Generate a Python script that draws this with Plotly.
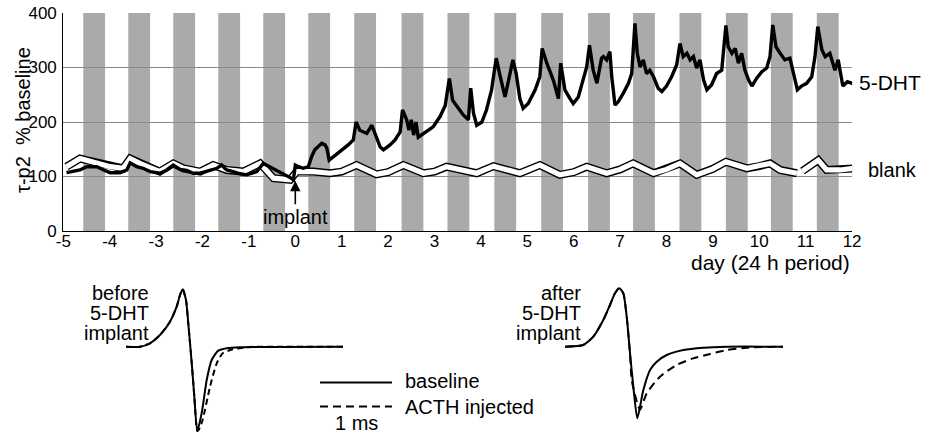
import plotly.graph_objects as go

W, H = 931, 437
FONT = "Liberation Sans, Arial, sans-serif"

# ---------------- top panel data ----------------
night_start = [-4.57, -3.60, -2.63, -1.66, -0.69, 0.28, 1.27, 2.29, 3.28, 4.29,
               5.30, 6.31, 7.28, 8.28, 9.28, 10.25, 11.24]
night_len = 0.47

x_ticks = list(range(-5, 13))
y_ticks = [0, 100, 200, 300, 400]

dht_day = [-4.93, -4.64, -4.50, -4.28, -4.13, -3.99, -3.78, -3.63, -3.56, -3.42, -3.28, -3.13,
           -2.92, -2.77, -2.63, -2.48, -2.34, -2.20, -2.05, -1.91, -1.69, -1.59, -1.48, -1.34,
           -1.19, -1.05, -0.83, -0.69, -0.55, -0.40, -0.26, -0.11, -0.04,
           0.00, 0.07, 0.17, 0.28, 0.35, 0.42, 0.50, 0.57, 0.64, 0.68, 0.73, 0.82, 0.93, 1.03,
           1.14, 1.25, 1.31, 1.39, 1.54, 1.65, 1.72, 1.83, 1.90, 2.04, 2.15, 2.26, 2.31, 2.40,
           2.45, 2.50, 2.55, 2.60, 2.65, 2.72, 2.83, 2.97, 3.12, 3.23, 3.32, 3.39, 3.44, 3.51,
           3.62, 3.73, 3.78, 3.84, 3.91, 4.02, 4.12, 4.23, 4.33, 4.41, 4.52, 4.59, 4.69, 4.76,
           4.84, 4.91, 5.02, 5.17, 5.27, 5.32, 5.42, 5.56, 5.67, 5.72, 5.81, 5.92, 5.99, 6.10,
           6.21, 6.28, 6.34, 6.42, 6.50, 6.60, 6.64, 6.71, 6.78, 6.82, 6.89, 6.96, 7.07, 7.18,
           7.25, 7.32, 7.37, 7.43, 7.50, 7.57, 7.64, 7.72, 7.82, 7.90, 8.00, 8.11, 8.22, 8.29,
           8.36, 8.44, 8.51, 8.58, 8.65, 8.72, 8.80, 8.87, 8.97, 9.08, 9.19, 9.28, 9.33, 9.41,
           9.48, 9.55, 9.62, 9.69, 9.77, 9.84, 9.94, 10.05, 10.16, 10.23, 10.29, 10.36, 10.45,
           10.55, 10.66, 10.74, 10.82, 10.91, 11.02, 11.13, 11.20, 11.26, 11.35, 11.42, 11.52,
           11.63, 11.70, 11.80, 11.90, 12.00, 12.07]
dht_val = [107, 112, 118, 118, 112, 107, 107, 112, 125, 118, 115, 109,
           106, 112, 121, 113, 111, 106, 106, 109, 115, 121, 112, 109,
           105, 103, 109, 124, 118, 112, 106, 98, 94,
           121, 118, 115, 118, 136, 149, 156, 161, 158, 152, 130, 136, 143, 150,
           158, 167, 200, 185, 179, 194, 179, 154, 149, 158, 167, 182, 222, 204,
           185, 204, 176, 200, 172, 176, 182, 191, 210, 230, 280, 240, 234, 225,
           213, 204, 262, 216, 194, 200, 222, 259, 317, 286, 246, 274, 314, 289,
           243, 225, 234, 259, 283, 335, 308, 277, 243, 308, 259, 243, 234, 246,
           277, 301, 341, 295, 271, 317, 320, 314, 329, 283, 231, 237, 253, 271,
           289, 381, 326, 301, 314, 289, 295, 283, 262, 256, 266, 283, 305, 344,
           320, 326, 314, 320, 299, 314, 277, 259, 268, 289, 295, 377, 338, 326,
           335, 308, 326, 295, 277, 266, 280, 292, 299, 320, 378, 338, 326,
           314, 317, 289, 259, 266, 271, 283, 320, 375, 332, 320, 326,
           295, 314, 266, 274, 271, 274]

blank_day = [-4.93, -4.64, -4.50, -4.21, -3.99, -3.71, -3.56, -3.35, -3.13, -2.92, -2.63, -2.41,
             -2.05, -1.77, -1.48, -1.12, -0.76, -0.62, -0.47, -0.11, 0.03, 0.39, 0.75, 1.00,
             1.32, 1.75, 2.00, 2.33, 2.76, 3.00, 3.26, 3.91, 4.27, 4.84, 5.27, 5.70, 6.00,
             6.28, 6.71, 7.00, 7.28, 7.72, 8.00, 8.29, 8.65, 9.00, 9.28, 9.73, 10.00, 10.23,
             10.45, 10.81, None, 10.93, 11.02, 11.27, 11.45, 11.74, 12.03, 12.08]
blank_val = [118, 133, 130, 124, 118, 115, 133, 124, 115, 109, 124, 115,
             109, 121, 112, 109, 124, 112, 97, 94, 109, 109, 106, 109,
             121, 104, 108, 121, 106, 109, 118, 106, 119, 106, 121, 103, 108,
             118, 106, 113, 124, 106, 113, 124, 103, 114, 127, 115, 119, 124,
             112, 106, None, 110, 115, 130, 112, 112, 115, 115]

# ---------------- waveform insets (t in ms, amplitude normalised) ----------------
before_base_t = [0, 0.194, 0.333, 0.472, 0.611, 0.704, 0.75, 0.788, 0.833, 0.865, 0.913, 0.949,
                 0.99, 1.051, 1.121, 1.19, 1.282, 1.399, 1.583, 3.014]
before_base_a = [0, 0, 0.06, 0.205, 0.439, 0.702, 0.907, 1.007, 0.819, 0.41, -0.291, -0.877,
                 -1.479, -1.168, -0.584, -0.233, -0.07, -0.028, -0.01, 0]
before_acth_t = [0, 0.194, 0.333, 0.472, 0.611, 0.704, 0.75, 0.788, 0.833, 0.865, 0.913, 0.949,
                 0.99, 1.014, 1.064, 1.167, 1.26, 1.342, 1.481, 1.722, 2.046, 3.014]
before_acth_a = [0, 0, 0.06, 0.205, 0.439, 0.702, 0.907, 1.007, 0.819, 0.41, -0.291, -0.877,
                 -1.479, -1.45, -1.286, -0.702, -0.291, -0.116, -0.046, -0.005, 0, 0]
after_base_t = [0, 0.254, 0.393, 0.532, 0.625, 0.694, 0.754, 0.81, 0.857, 0.903, 0.949, 1.004,
                1.088, 1.181, 1.274, 1.413, 1.644, 1.921, 2.246, 3.028]
after_base_a = [0, 0.03, 0.175, 0.468, 0.732, 0.937, 1.025, 0.937, 0.526, -0.116, -0.702, -1.256,
                -0.76, -0.409, -0.263, -0.146, -0.058, -0.018, 0, 0]
after_acth_t = [0, 0.254, 0.393, 0.532, 0.625, 0.694, 0.754, 0.81, 0.857, 0.903, 0.926, 1.004,
                1.042, 1.135, 1.319, 1.551, 1.781, 2.014, 2.246, 2.524, 2.94, 3.028]
after_acth_a = [0, 0.03, 0.175, 0.468, 0.732, 0.937, 1.025, 0.937, 0.526, -0.116, -0.584, -0.993,
                -1.105, -0.818, -0.526, -0.321, -0.204, -0.128, -0.058, -0.018, 0, 0]


def fx(x):
    return x / W


def fy(y):
    return 1 - y / H


fig = go.Figure()

# blank: white line with black outline
fig.add_trace(go.Scatter(x=blank_day, y=blank_val, mode="lines", connectgaps=False,
                         line=dict(color="black", width=8), hoverinfo="skip", showlegend=False))
fig.add_trace(go.Scatter(x=blank_day, y=blank_val, mode="lines", connectgaps=False,
                         line=dict(color="white", width=5.2), hoverinfo="skip", showlegend=False))
# 5-DHT
fig.add_trace(go.Scatter(x=dht_day, y=dht_val, mode="lines",
                         line=dict(color="black", width=3.4), showlegend=False))

# insets
sm = dict(shape="spline", smoothing=0.6)
fig.add_trace(go.Scatter(x=before_base_t, y=before_base_a, xaxis="x2", yaxis="y2", mode="lines",
                         line=dict(color="black", width=2, **sm), showlegend=False))
fig.add_trace(go.Scatter(x=before_acth_t, y=before_acth_a, xaxis="x2", yaxis="y2", mode="lines",
                         line=dict(color="black", width=2, dash="6px,4px", **sm), showlegend=False))
fig.add_trace(go.Scatter(x=after_base_t, y=after_base_a, xaxis="x3", yaxis="y3", mode="lines",
                         line=dict(color="black", width=2, **sm), showlegend=False))
fig.add_trace(go.Scatter(x=after_acth_t, y=after_acth_a, xaxis="x3", yaxis="y3", mode="lines",
                         line=dict(color="black", width=2, dash="8px,5px", **sm), showlegend=False))

shapes = []
for s in night_start:
    shapes.append(dict(type="rect", xref="x", yref="y", x0=s, x1=s + night_len, y0=0, y1=400,
                       fillcolor="#aaaaaa", line=dict(width=0), layer="below"))
# legend / scale bar
shapes.append(dict(type="line", xref="paper", yref="paper", x0=fx(320), x1=fx(392),
                   y0=fy(382.5), y1=fy(382.5), line=dict(color="black", width=2)))
shapes.append(dict(type="line", xref="paper", yref="paper", x0=fx(320), x1=fx(392),
                   y0=fy(406.5), y1=fy(406.5), line=dict(color="black", width=2, dash="8px,5px")))

ann = []


def txt(x, y, t, size=20, xanchor="center", **kw):
    ann.append(dict(x=fx(x), y=fy(y), xref="paper", yref="paper", text=t, showarrow=False,
                    xanchor=xanchor, yanchor="middle",
                    font=dict(size=size, color="black", family=FONT), **kw))


txt(23, 120, "τ-p2  % baseline", textangle=-90)
txt(852, 262, "day (24 h period)", size=21, xanchor="right")
txt(857, 82, "5-DHT", size=21, xanchor="left")
txt(866, 170, "blank", xanchor="left")
for i, line in enumerate(["before", "5-DHT", "implant"]):
    txt(151, 293 + 20 * i, line, xanchor="right")
for i, line in enumerate(["after", "5-DHT", "implant"]):
    txt(583, 293 + 20 * i, line, xanchor="right")
txt(403, 381, "baseline", xanchor="left")
txt(403, 407, "ACTH injected", xanchor="left")
txt(356, 423, "1 ms")

ann.append(dict(x=0, y=92, xref="x", yref="y", text="implant", showarrow=True,
                ax=0, ay=36, arrowhead=2, arrowsize=1.3, arrowwidth=1.6, arrowcolor="black",
                font=dict(size=20, color="black", family=FONT)))

# scale: 72 px per ms, 57 px per amplitude unit, baseline at y=346.7 px
ms_px, amp_px, base_y = 72.0, 57.0, 346.7
yr = [(base_y - 437) / amp_px, (base_y - 270) / amp_px]

fig.update_layout(
    width=W, height=H, margin=dict(l=0, r=0, t=0, b=0, pad=0, autoexpand=False),
    paper_bgcolor="white", plot_bgcolor="rgba(0,0,0,0)",
    font=dict(family=FONT, color="black"),
    showlegend=False,
    shapes=shapes, annotations=ann,
    xaxis=dict(domain=[fx(63.3), fx(852.1)], range=[-5, 12], tickvals=x_ticks,
               ticktext=[str(v) for v in x_ticks], showgrid=False, zeroline=False,
               showline=True, linecolor="black", linewidth=1.2, ticks="", automargin=False,
               ticklabelstandoff=-6, tickfont=dict(size=17, family=FONT)),
    yaxis=dict(domain=[fy(231), fy(13)], range=[0, 400], tickvals=y_ticks,
               showgrid=True, gridcolor="#8a8a8a", gridwidth=1, zeroline=False,
               showline=True, linecolor="black", linewidth=1.2, ticks="", automargin=False,
               ticklabelstandoff=2, tickfont=dict(size=17, family=FONT)),
    xaxis2=dict(domain=[fx(110), fx(400)], range=[(110 - 126) / ms_px, (400 - 126) / ms_px],
                visible=False, automargin=False, anchor="y2"),
    yaxis2=dict(domain=[0, fy(270)], range=yr, visible=False, automargin=False, anchor="x2"),
    xaxis3=dict(domain=[fx(550), fx(800)], range=[(550 - 565) / ms_px, (800 - 565) / ms_px],
                visible=False, automargin=False, anchor="y3"),
    yaxis3=dict(domain=[0, fy(270)], range=yr, visible=False, automargin=False, anchor="x3"),
)

fig.write_html("out.html", config={"displayModeBar": False},
               post_script="document.body.style.margin='0';")
